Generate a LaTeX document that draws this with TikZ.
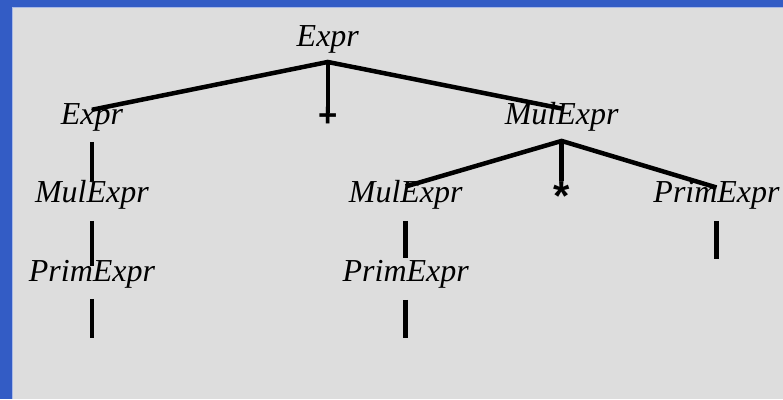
\documentclass[tikz,border=0pt]{standalone}
\usepackage{fontspec}
\setmainfont{Liberation Serif}
\newfontfamily\tokfont{Liberation Sans}
\usetikzlibrary{positioning,calc}
\definecolor{slideblue}{HTML}{335CC5}
\definecolor{slidegray}{HTML}{DDDDDD}
\definecolor{slideedge}{HTML}{A9B9E6}

\begin{document}
\begin{tikzpicture}[x=1pt, y=-1pt,
  sym/.style={inner sep=0pt, anchor=base, font=\fontsize{32}{38}\selectfont\itshape},
  tok/.style={inner sep=0pt, anchor=north, font=\fontsize{33}{38}\selectfont\tokfont\bfseries},
  branch/.style={line width=4.5pt}]
  % slide background with the blue frame top and left
  \fill[slideblue] (0,0) rectangle (783,399);
  \fill[slidegray] (12.5,7.5) rectangle (783,399);
  \draw[slideedge, line width=1pt] (12.5,399) -- (12.5,7.5) -- (783,7.5);
  \useasboundingbox (0,0) rectangle (783,399);

  % tree nodes, one row per level
  \node[sym] (root) at (328,47) {Expr};
  \node[sym] (lhs) at (92,125) {Expr};
  \node[tok] (plus) at (328,107) {+};
  \node[sym] (mul) at (562,125) {MulExpr};
  \node[sym] (lmul) at (92,203) {MulExpr};
  \node[sym] (mmul) at (406,203) {MulExpr};
  \node[tok, font=\fontsize{42}{48}\selectfont\tokfont\bfseries] (star) at (562,182) {*};
  \node[sym] (rprim) at (717,203) {PrimExpr};
  \node[sym] (lprim) at (92,282) {PrimExpr};
  \node[sym] (mprim) at (406,282) {PrimExpr};

  % loose ends below the last PrimExpr nodes
  \coordinate (lprim-leaf) at (92,338);
  \coordinate (mprim-leaf) at (406,338);
  \coordinate (rprim-leaf) at (717,259);

  % branch points under the two binary nodes
  \coordinate (root-j) at ([yshift=-8pt]root.south);
  \coordinate (mul-j) at ([yshift=-9pt]mul.south);

  \draw[branch] ([yshift=-6pt]lhs.north) -- (root-j) -- ([yshift=-6pt]mul.north);
  \draw[branch] (root-j) -- ([yshift=-6pt]plus.north);
  \draw[branch] ([yshift=-6pt]mmul.north) -- (mul-j) -- ([yshift=-6pt]rprim.north);
  \draw[branch] (mul-j) -- ([yshift=1pt]star.north);

  \draw[branch] ([yshift=-10pt]lhs.south) -- ([yshift=-1pt]lmul.north);
  \draw[branch] ([yshift=-11pt]lmul.south) -- ([yshift=-6pt]lprim.north);
  \draw[branch] ([yshift=-11pt]mmul.south) -- ([yshift=2pt]mprim.north);
  \draw[branch] ([yshift=-10pt]lprim.south) -- (lprim-leaf);
  \draw[branch] ([yshift=-11pt]mprim.south) -- (mprim-leaf);
  \draw[branch] ([yshift=-11pt]rprim.south) -- (rprim-leaf);
\end{tikzpicture}
\end{document}
